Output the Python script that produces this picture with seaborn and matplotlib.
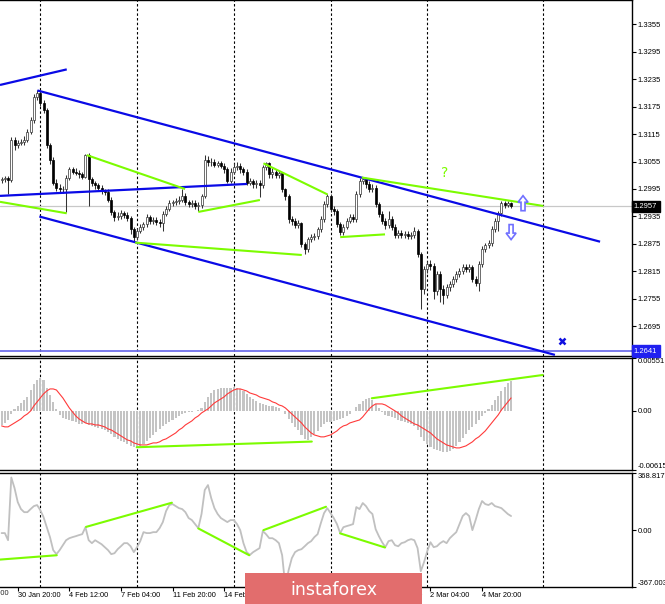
import numpy as np
import matplotlib
matplotlib.use("Agg")
import matplotlib.pyplot as plt
import matplotlib.transforms as mtransforms
from matplotlib.patches import Polygon
import seaborn as sns

sns.set_style("white")
plt.rcParams['font.family'] = ['Liberation Sans', 'DejaVu Sans']

# ---- H4 candles (open = previous close) ----
first_open = 1.3014
close = [
    1.3016, 1.3018, 1.3014, 1.3101, 1.3092, 1.3096, 1.3098, 1.3103, 1.3120, 1.3146,
    1.3196, 1.3205, 1.3183, 1.3168, 1.3092, 1.3059, 1.3009, 1.2998, 1.2994, 1.2994,
    1.3020, 1.3038, 1.3033, 1.3031, 1.3027, 1.3022, 1.3070, 1.3016, 1.3007, 1.3003,
    1.2998, 1.2990, 1.2988, 1.2972, 1.2944, 1.2933, 1.2935, 1.2942, 1.2938, 1.2931,
    1.2907, 1.2890, 1.2903, 1.2912, 1.2918, 1.2933, 1.2925, 1.2927, 1.2922, 1.2920,
    1.2940, 1.2951, 1.2964, 1.2966, 1.2968, 1.2972, 1.2979, 1.2966, 1.2962, 1.2964,
    1.2957, 1.2959, 1.2979, 1.3059, 1.3053, 1.3055, 1.3048, 1.3051, 1.3046, 1.3038,
    1.3012, 1.3033, 1.3042, 1.3046, 1.3038, 1.3033, 1.3009, 1.3012, 1.3005, 1.3009,
    1.3003, 1.3042, 1.3051, 1.3027, 1.3033, 1.3025, 1.3029, 1.2994, 1.2979, 1.2929,
    1.2925, 1.2916, 1.2920, 1.2874, 1.2864, 1.2885, 1.2890, 1.2892, 1.2907, 1.2929,
    1.2962, 1.2979, 1.2951, 1.2946, 1.2918, 1.2901, 1.2912, 1.2925, 1.2933, 1.2929,
    1.2983, 1.3012, 1.3016, 1.3005, 1.2994, 1.2998, 1.2962, 1.2940, 1.2925, 1.2916,
    1.2929, 1.2912, 1.2894, 1.2898, 1.2894, 1.2896, 1.2892, 1.2894, 1.2903, 1.2853,
    1.2777, 1.2820, 1.2831, 1.2827, 1.2772, 1.2809, 1.2777, 1.2764, 1.2781, 1.2788,
    1.2799, 1.2809, 1.2816, 1.2825, 1.2820, 1.2825, 1.2799, 1.2790, 1.2831, 1.2864,
    1.2872, 1.2877, 1.2907, 1.2925, 1.2942, 1.2964, 1.2959, 1.2964, 1.2957,
]
high = [
    1.3022, 1.3024, 1.3023, 1.3109, 1.3109, 1.3103, 1.3105, 1.3110, 1.3127, 1.3152,
    1.3203, 1.3212, 1.3210, 1.3190, 1.3172, 1.3096, 1.3064, 1.3016, 1.3005, 1.3001,
    1.3026, 1.3044, 1.3044, 1.3040, 1.3036, 1.3033, 1.3072, 1.3074, 1.3022, 1.3012,
    1.3009, 1.3003, 1.2996, 1.2994, 1.2977, 1.2950, 1.2944, 1.2950, 1.2948, 1.2944,
    1.2936, 1.2912, 1.2909, 1.2918, 1.2924, 1.2940, 1.2938, 1.2933, 1.2933, 1.2929,
    1.2946, 1.2957, 1.2970, 1.2972, 1.2975, 1.2979, 1.2994, 1.2986, 1.2972, 1.2970,
    1.2970, 1.2966, 1.2985, 1.3070, 1.3066, 1.3062, 1.3061, 1.3057, 1.3057, 1.3051,
    1.3044, 1.3040, 1.3051, 1.3053, 1.3051, 1.3044, 1.3038, 1.3018, 1.3016, 1.3014,
    1.3014, 1.3048, 1.3055, 1.3055, 1.3040, 1.3038, 1.3036, 1.3033, 1.2998, 1.2983,
    1.2936, 1.2931, 1.2927, 1.2924, 1.2879, 1.2890, 1.2896, 1.2898, 1.2912, 1.2935,
    1.2968, 1.2983, 1.2983, 1.2957, 1.2951, 1.2922, 1.2918, 1.2931, 1.2940, 1.2940,
    1.2990, 1.3018, 1.3022, 1.3020, 1.3012, 1.3005, 1.3003, 1.2966, 1.2946, 1.2931,
    1.2946, 1.2935, 1.2918, 1.2905, 1.2905, 1.2903, 1.2903, 1.2901, 1.2912, 1.2907,
    1.2857, 1.2827, 1.2838, 1.2840, 1.2833, 1.2816, 1.2816, 1.2785, 1.2788, 1.2794,
    1.2805, 1.2816, 1.2822, 1.2831, 1.2831, 1.2831, 1.2829, 1.2805, 1.2838, 1.2870,
    1.2877, 1.2883, 1.2914, 1.2931, 1.2948, 1.2968, 1.2968, 1.2968, 1.2966,
]
low = [
    1.3008, 1.3010, 1.2983, 1.3010, 1.3081, 1.3085, 1.3090, 1.3092, 1.3098, 1.3114,
    1.3140, 1.3190, 1.3176, 1.3160, 1.3085, 1.3050, 1.3003, 1.2990, 1.2988, 1.2986,
    1.2944, 1.3014, 1.3027, 1.3025, 1.3020, 1.3016, 1.3018, 1.2957, 1.3001, 1.2996,
    1.2992, 1.2983, 1.2981, 1.2966, 1.2938, 1.2925, 1.2927, 1.2929, 1.2931, 1.2925,
    1.2896, 1.2881, 1.2883, 1.2898, 1.2905, 1.2912, 1.2918, 1.2918, 1.2916, 1.2912,
    1.2903, 1.2935, 1.2946, 1.2957, 1.2959, 1.2962, 1.2966, 1.2959, 1.2955, 1.2955,
    1.2951, 1.2946, 1.2953, 1.2975, 1.3046, 1.3046, 1.3042, 1.3042, 1.3040, 1.3031,
    1.3007, 1.3007, 1.3027, 1.3036, 1.3031, 1.3025, 1.3003, 1.3003, 1.2998, 1.2998,
    1.2977, 1.2998, 1.3036, 1.3020, 1.3020, 1.3018, 1.3018, 1.2988, 1.2970, 1.2920,
    1.2916, 1.2909, 1.2909, 1.2868, 1.2853, 1.2857, 1.2879, 1.2883, 1.2885, 1.2901,
    1.2924, 1.2955, 1.2944, 1.2938, 1.2912, 1.2894, 1.2894, 1.2907, 1.2920, 1.2922,
    1.2922, 1.2977, 1.3005, 1.2998, 1.2988, 1.2988, 1.2955, 1.2933, 1.2918, 1.2907,
    1.2909, 1.2905, 1.2887, 1.2887, 1.2887, 1.2887, 1.2885, 1.2885, 1.2887, 1.2846,
    1.2733, 1.2766, 1.2812, 1.2818, 1.2755, 1.2764, 1.2749, 1.2744, 1.2757, 1.2772,
    1.2781, 1.2792, 1.2803, 1.2809, 1.2814, 1.2814, 1.2792, 1.2783, 1.2772, 1.2825,
    1.2857, 1.2866, 1.2870, 1.2901, 1.2903, 1.2935, 1.2953, 1.2955, 1.2953,
]

# ---- MACD ----
macd_hist = [
    -0.00146, -0.00125, -0.00094, -0.00031, 0.00021, 0.00052, 0.00083, 0.00114, 0.00146, 0.00218,
    0.00281, 0.00322, 0.00343, 0.00322, 0.00239, 0.00166, 0.00094, 0.00021, -0.00042, -0.00073,
    -0.00083, -0.00094, -0.00104, -0.00114, -0.00135, -0.00135, -0.00125, -0.00146, -0.00156, -0.00166,
    -0.00177, -0.00187, -0.00198, -0.00218, -0.00239, -0.00270, -0.00291, -0.00312, -0.00322, -0.00343,
    -0.00364, -0.00374, -0.00374, -0.00364, -0.00343, -0.00312, -0.00281, -0.00250, -0.00218, -0.00187,
    -0.00156, -0.00135, -0.00114, -0.00094, -0.00073, -0.00052, -0.00031, -0.00021, -0.00010, -0.00010,
    -0.00002, 0.00010, 0.00031, 0.00094, 0.00146, 0.00187, 0.00218, 0.00229, 0.00239, 0.00239,
    0.00239, 0.00239, 0.00250, 0.00239, 0.00229, 0.00208, 0.00177, 0.00146, 0.00125, 0.00104,
    0.00083, 0.00073, 0.00062, 0.00052, 0.00052, 0.00042, 0.00031, -0.00002, -0.00031, -0.00083,
    -0.00125, -0.00166, -0.00198, -0.00250, -0.00291, -0.00302, -0.00270, -0.00239, -0.00208, -0.00166,
    -0.00135, -0.00114, -0.00114, -0.00104, -0.00094, -0.00083, -0.00073, -0.00052, -0.00031, 0.00002,
    0.00042, 0.00073, 0.00104, 0.00125, 0.00135, 0.00114, 0.00073, 0.00031, -0.00010, -0.00042,
    -0.00052, -0.00062, -0.00073, -0.00094, -0.00104, -0.00114, -0.00125, -0.00135, -0.00156, -0.00198,
    -0.00270, -0.00312, -0.00343, -0.00374, -0.00395, -0.00406, -0.00416, -0.00426, -0.00426, -0.00416,
    -0.00395, -0.00364, -0.00322, -0.00281, -0.00239, -0.00198, -0.00166, -0.00135, -0.00094, -0.00052,
    -0.00021, 0.00021, 0.00062, 0.00114, 0.00156, 0.00208, 0.00250, 0.00290, 0.00315,
]
macd_signal = [
    -0.00156, -0.00166, -0.00166, -0.00146, -0.00125, -0.00104, -0.00083, -0.00052, -0.00031, 0.00000,
    0.00052, 0.00094, 0.00135, 0.00177, 0.00208, 0.00229, 0.00229, 0.00218, 0.00177, 0.00135,
    0.00083, 0.00031, -0.00010, -0.00052, -0.00083, -0.00104, -0.00125, -0.00135, -0.00135, -0.00146,
    -0.00146, -0.00156, -0.00166, -0.00187, -0.00198, -0.00218, -0.00239, -0.00260, -0.00281, -0.00302,
    -0.00312, -0.00333, -0.00343, -0.00354, -0.00354, -0.00354, -0.00343, -0.00333, -0.00333, -0.00322,
    -0.00302, -0.00291, -0.00270, -0.00250, -0.00229, -0.00198, -0.00177, -0.00146, -0.00125, -0.00104,
    -0.00073, -0.00052, -0.00021, 0.00000, 0.00021, 0.00052, 0.00083, 0.00104, 0.00125, 0.00146,
    0.00177, 0.00198, 0.00218, 0.00229, 0.00229, 0.00218, 0.00208, 0.00187, 0.00177, 0.00166,
    0.00146, 0.00135, 0.00125, 0.00114, 0.00094, 0.00083, 0.00062, 0.00052, 0.00031, 0.00000,
    -0.00031, -0.00062, -0.00094, -0.00125, -0.00166, -0.00198, -0.00229, -0.00250, -0.00260, -0.00270,
    -0.00270, -0.00260, -0.00250, -0.00229, -0.00208, -0.00177, -0.00156, -0.00146, -0.00125, -0.00114,
    -0.00104, -0.00094, -0.00062, -0.00021, 0.00021, 0.00052, 0.00073, 0.00073, 0.00073, 0.00062,
    0.00042, 0.00021, 0.00000, -0.00021, -0.00052, -0.00073, -0.00094, -0.00114, -0.00135, -0.00146,
    -0.00166, -0.00187, -0.00208, -0.00229, -0.00260, -0.00291, -0.00312, -0.00333, -0.00354, -0.00364,
    -0.00374, -0.00385, -0.00385, -0.00374, -0.00364, -0.00343, -0.00322, -0.00291, -0.00270, -0.00239,
    -0.00208, -0.00166, -0.00125, -0.00083, -0.00042, 0.00010, 0.00052, 0.00094, 0.00135,
]

# ---- CCI ----
cci = [
    -19, -19, -65, 340, 272, 181, 136, 116, 116, 136,
    155, 162, 129, 84, 19, -45, -129, -155, -129, -97,
    -65, -52, -45, -39, -32, -26, 19, -65, -84, -65,
    -78, -91, -110, -129, -155, -149, -123, -104, -84, -84,
    -104, -142, -110, -71, -13, -19, -19, -13, -13, 13,
    52, 123, 162, 168, 155, 142, 136, 116, 78, 65,
    39, 13, 104, 259, 291, 207, 142, 104, 78, 65,
    52, 65, 65, 39, 0, -84, -142, -160, -142, -129,
    -116, -6, -26, -52, -52, -65, -84, -162, -367.0, -259,
    -181, -142, -129, -123, -104, -84, -71, -45, -26, 45,
    110, 142, 110, 78, 39, -19, 19, 26, 32, 39,
    149, 136, 175, 155, 123, 104, 6, -39, -78, -110,
    -71, -65, -97, -104, -84, -78, -65, -58, -65, -116,
    -265, -207, -136, -78, -110, -104, -84, -71, -84, -52,
    -32, -13, 39, 91, 110, 91, 0, 65, 136, 188,
    168, 162, 175, 155, 149, 142, 123, 104, 91,
]

# ---- drawn objects (bar index, value) ----
blue_x = [(-0.5, 20.2), (11.1, 185.6), (11.7, 171.6), (-0.5, 76.1)]
blue_y = [(1.3222, 1.3256), (1.3210, 1.2880), (1.2935, 1.2633), (1.2980, 1.3006)]
green_x = [(-0.5, 20.2), (26.4, 56.9), (41.4, 93.1), (61.0, 80.1), (81.2, 101.1), (105.0, 118.9), (111.7, 168.0)]
green_y = [(1.2967, 1.2942), (1.3069, 1.2995), (1.2878, 1.2851), (1.2945, 1.2971),
           (1.3051, 1.2983), (1.2890, 1.2896), (1.3020, 1.2958)]
macd_green_x = [(41.9, 96.2), (114.8, 167.8)]
macd_green_y = [(-0.00378, -0.00319), (0.00132, 0.00374)]
cci_green_x = [(-0.5, 17.1), (26.2, 52.8), (61.0, 76.8), (81.2, 100.6), (105.0, 118.9)]
cci_green_y = [(-190, -162), (21, 177), (11, -162), (0, 151), (-21, -112)]

price_ticks = [1.3355, 1.3295, 1.3235, 1.3175, 1.3115, 1.3055, 1.2995, 1.2935, 1.2875, 1.2815, 1.2755, 1.2695]
last_price = 1.2957
level_price = 1.2641
week_starts = [12, 42, 72, 102, 132, 168]
time_ticks = [5, 21, 37, 53, 69, 85, 101, 117, 133, 149]
time_labels = ["30 Jan 20:00", "4 Feb 12:00", "7 Feb 04:00", "11 Feb 20:00", "14 Feb 12:00",
               "19 Feb 04:00", "21 Feb 20:00", "26 Feb 12:00", "2 Mar 04:00", "4 Mar 20:00"]

close = np.array(close)
high = np.array(high)
low = np.array(low)
opens = np.r_[first_open, close[:-1]]
bars = np.arange(len(close))

W, H = 665, 604
fig = plt.figure(figsize=(W / 100, H / 100), dpi=100)
LBL = 5.5


def panel(top, bottom):
    a = fig.add_axes([0, (H - bottom) / H, 632 / W, (bottom - top) / H])
    a.set_xlim(-0.5, 195.5)
    a.set_facecolor('white')
    for s in ('top', 'bottom', 'right'):
        a.spines[s].set_color('black')
        a.spines[s].set_linewidth(1.0)
    a.spines['left'].set_visible(False)
    a.yaxis.tick_right()
    a.tick_params(axis='y', direction='out', length=3, width=0.8, labelsize=LBL, pad=1,
                  colors='black', right=True, left=False)
    a.set_xticks([])
    for w in week_starts:
        a.axvline(w, color='black', lw=0.8, ls=(0, (2.2, 2)), zorder=1)
    return a


ax = panel(0, 356)
ax_macd = panel(358, 470)
ax_cci = panel(473, 587)

# ---- main price panel ----
ax.set_ylim(1.26306, 1.34074)
ax.set_yticks(price_ticks)
ax.set_yticklabels([f"{p:.4f}" for p in price_ticks])
ax.axhline(last_price, color='#C8C8C8', lw=0.9, zorder=1)
ax.axhline(level_price, color='#6E6EEA', lw=1.3, zorder=1)

up = close >= opens
ax.vlines(bars, low, high, color='#333333', lw=0.75, zorder=2)
ax.bar(bars[up], close[up] - opens[up], bottom=opens[up], width=0.62,
       color='white', edgecolor='#333333', lw=0.5, zorder=3)
ax.bar(bars[~up], opens[~up] - close[~up], bottom=close[~up], width=0.62,
       color='black', edgecolor='black', lw=0.5, zorder=3)

for xs, ys in zip(blue_x, blue_y):
    ax.plot(xs, ys, color='#0A0AE6', lw=1.6, zorder=4, solid_capstyle='butt')
for xs, ys in zip(green_x, green_y):
    ax.plot(xs, ys, color='#7CFC00', lw=1.5, zorder=4, solid_capstyle='butt')

ax.text(137.5, 1.3030, '?', color='#7CFC00', fontsize=10, ha='center', va='center', zorder=5,
        family='DejaVu Sans')
ax.plot([173.8], [1.2663], marker='x', ms=5, mew=1.8, color='#1010E0', zorder=5)

# hollow arrows, shape in pixels around an anchor
arrow_up = np.array([(-2, -7.5), (2, -7.5), (2, 1), (5, 1), (0, 7.5), (-5, 1), (-2, 1)]) / 100.0
for (bx, by, sgn) in [(161.7, 1.2964, 1), (158.0, 1.2901, -1)]:
    tr = fig.dpi_scale_trans + mtransforms.ScaledTranslation(bx, by, ax.transData)
    ax.add_patch(Polygon(arrow_up * [1, sgn], closed=True, fc='white', ec='#7070FF',
                         lw=1.2, transform=tr, zorder=6, clip_on=False))

yb = mtransforms.blended_transform_factory(ax.transAxes, ax.transData)
ax.text(1.003, last_price, f"{last_price:.4f}", transform=yb, color='white', fontsize=LBL,
        ha='left', va='center', clip_on=False, zorder=10,
        bbox=dict(boxstyle='square,pad=0.3', fc='black', ec='black'))
ax.text(1.003, level_price, f"{level_price:.4f}", transform=yb, color='white', fontsize=LBL,
        ha='left', va='center', clip_on=False, zorder=10,
        bbox=dict(boxstyle='square,pad=0.3', fc='#2020F0', ec='#2020F0'))

# ---- MACD panel ----
ax_macd.set_ylim(-0.00615, 0.00551)
ax_macd.bar(bars, macd_hist, width=0.66, color='#C4C4C4', lw=0, antialiased=False, zorder=2)
sns.lineplot(x=bars, y=macd_signal, ax=ax_macd, color='#FF3A3A', lw=0.8, zorder=3)
for xs, ys in zip(macd_green_x, macd_green_y):
    ax_macd.plot(xs, ys, color='#7CFC00', lw=1.5, zorder=4)
ax_macd.set_yticks([-0.00615, 0, 0.00551])
ax_macd.set_yticklabels(["-0.00615", "0.00", "0.00551"])
lbls = ax_macd.get_yticklabels()
lbls[0].set_va('bottom')
lbls[2].set_va('top')
ax_macd.set_ylabel('')

# ---- CCI panel ----
ax_cci.set_ylim(-367.0034, 368.8171)
sns.lineplot(x=bars, y=cci, ax=ax_cci, color='#C0C0C0', lw=1.3, zorder=2)
for xs, ys in zip(cci_green_x, cci_green_y):
    ax_cci.plot(xs, ys, color='#7CFC00', lw=1.5, zorder=4)
ax_cci.set_yticks([-367.0034, 0, 368.8171])
ax_cci.set_yticklabels(["-367.0034", "0.00", "368.8171"])
lbls = ax_cci.get_yticklabels()
lbls[0].set_va('bottom')
lbls[2].set_va('top')
ax_cci.set_ylabel('')

ax_cci.set_xticks(time_ticks)
ax_cci.set_xticklabels(time_labels)
ax_cci.tick_params(axis='x', direction='out', length=3, width=0.8, labelsize=5.3, pad=0.5,
                   bottom=True, colors='black')
for t in ax_cci.get_xticklabels():
    t.set_ha('left')
xb = mtransforms.blended_transform_factory(ax_cci.transData, ax_cci.transAxes)
ax_cci.text(-11, -0.03, "28 Jan 04:00", transform=xb, fontsize=5.3, ha='left', va='top', clip_on=False)

# ---- watermark ----
wm = fig.add_axes([245 / W, 0, 177 / W, 31 / H])
wm.set_facecolor('#E26D6D')
wm.set_xticks([])
wm.set_yticks([])
for s in wm.spines.values():
    s.set_visible(False)
wm.text(0.5, 0.45, 'instaforex', color='white', fontsize=12.5, ha='center', va='center',
        transform=wm.transAxes, family='DejaVu Sans')

fig.savefig('out.png', dpi=100)
